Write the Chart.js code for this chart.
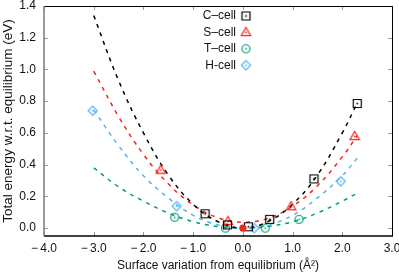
<!DOCTYPE html>
<html>
<head>
<meta charset="utf-8">
<script src="https://cdn.jsdelivr.net/npm/chart.js@4.4.0/dist/chart.umd.min.js"></script>
<style>
  html, body { margin: 0; padding: 0; background: #fff; }
  #wrap { width: 399px; height: 273px; }
</style>
</head>
<body>
<div id="wrap"><canvas id="energyChart" width="399" height="273"></canvas></div>
<script>
// cells
const cellNames = ['C\u2013cell', 'S\u2013cell', 'T\u2013cell', 'H-cell'];
const cellColors = ['#000000', '#f0281e', '#009e73', '#56b4e9'];
const cellShapes = ['square', 'triangle', 'circle', 'diamond'];

// computed points (surface variation, energy)
const cX = [-0.76, -0.31, 0.11, 0.54, 1.43, 2.30];
const cY = [0.090, 0.020, 0.008, 0.055, 0.310, 0.785];
const sX = [-1.65, -0.30, 0.97, 2.25];
const sY = [0.365, 0.042, 0.135, 0.578];
const tX = [-1.37, -0.35, 0.45, 1.13];
const tY = [0.068, 0.000, 0.000, 0.055];
const hX = [-3.02, -1.33, 0.23, 1.97];
const hY = [0.740, 0.138, 0.000, 0.295];

// equilibrium point
const eqX = [0.0];
const eqY = [0.0];

// dashed fit curves
const fitX = [-3.0, -2.5, -2.0, -1.5, -1.0, -0.5, 0.0, 0.5, 1.0, 1.5, 2.0, 2.3];
const cFit = [1.34, 0.93, 0.60, 0.335, 0.15, 0.04, 0.0, 0.04, 0.15, 0.335, 0.60, 0.788];
const sFit = [0.99, 0.703, 0.465, 0.279, 0.146, 0.065, 0.037, 0.061, 0.138, 0.267, 0.449, 0.583];
const tFit = [0.38, 0.26, 0.17, 0.095, 0.04, 0.01, 0.0, 0.01, 0.04, 0.095, 0.17, 0.22];
const hFit = [0.745, 0.52, 0.33, 0.19, 0.08, 0.02, 0.0, 0.02, 0.08, 0.19, 0.33, 0.44];

// axes
const xTicks = [-4, -3, -2, -1, 0, 1, 2, 3];
const yTicks = [0, 0.2, 0.4, 0.6, 0.8, 1.0, 1.2, 1.4];

const FONT = '"Liberation Sans", Arial, sans-serif';

function pairs(xs, ys) {
    return xs.map((x, i) => ({ x: x, y: ys[i] }));
}

// hollow marker with a small dot in the middle (gnuplot style)
function makeMarker(shape, color) {
    const size = 15;
    const c = document.createElement('canvas');
    c.width = size;
    c.height = size;
    const g = c.getContext('2d');
    const m = size / 2;
    g.strokeStyle = color;
    g.fillStyle = color;
    g.lineWidth = 1.2;
    g.beginPath();
    if (shape === 'square') {
        g.rect(m - 4, m - 4, 8, 8);
    } else if (shape === 'triangle') {
        g.moveTo(m, m - 5);
        g.lineTo(m + 4.7, m + 3.2);
        g.lineTo(m - 4.7, m + 3.2);
        g.closePath();
    } else if (shape === 'circle') {
        g.arc(m, m, 4, 0, Math.PI * 2);
    } else {
        g.moveTo(m, m - 4.6);
        g.lineTo(m + 4.6, m);
        g.lineTo(m, m + 4.6);
        g.lineTo(m - 4.6, m);
        g.closePath();
    }
    g.stroke();
    g.beginPath();
    g.arc(m, m, 0.9, 0, Math.PI * 2);
    g.fill();
    return c;
}

const markers = cellShapes.map((s, i) => makeMarker(s, cellColors[i]));

function fmt(v) {
    const s = Math.abs(v).toFixed(1);
    return v < 0 ? '\u2212\u2009' + s : s;
}

// box round the plot with short inward ticks
const framePlugin = {
    id: 'frame',
    afterDraw(chart) {
        const { ctx, chartArea: a, scales } = chart;
        ctx.save();
        ctx.strokeStyle = '#999';
        ctx.lineWidth = 1;
        ctx.beginPath();
        xTicks.forEach(v => {
            const px = Math.round(scales.x.getPixelForValue(v)) + 0.5;
            ctx.moveTo(px, a.bottom); ctx.lineTo(px, a.bottom - 4);
            ctx.moveTo(px, a.top); ctx.lineTo(px, a.top + 4);
        });
        yTicks.forEach(v => {
            const py = Math.round(scales.y.getPixelForValue(v)) + 0.5;
            ctx.moveTo(a.left, py); ctx.lineTo(a.left + 4, py);
            ctx.moveTo(a.right, py); ctx.lineTo(a.right - 4, py);
        });
        ctx.stroke();

        ctx.strokeStyle = '#000';
        ctx.lineWidth = 1;
        ctx.beginPath();
        ctx.moveTo(a.left, a.top + 0.5); ctx.lineTo(a.right + 0.5, a.top + 0.5);
        ctx.lineTo(a.right + 0.5, a.bottom);
        ctx.stroke();
        ctx.lineWidth = 1.6;
        ctx.beginPath();
        ctx.moveTo(a.left, a.bottom); ctx.lineTo(a.right + 1, a.bottom);
        ctx.stroke();
        ctx.strokeStyle = '#808080';
        ctx.lineWidth = 1.6;
        ctx.beginPath();
        ctx.moveTo(a.left, a.top); ctx.lineTo(a.left, a.bottom);
        ctx.stroke();
        ctx.restore();
    }
};

// legend: text on the left, symbol on the right
const keyPlugin = {
    id: 'key',
    afterDraw(chart) {
        const ctx = chart.ctx;
        const textRight = 236;
        const symbolX = 246;
        const firstY = 16;
        const step = 16.4;
        ctx.save();
        ctx.font = '12px ' + FONT;
        ctx.fillStyle = '#111';
        ctx.textAlign = 'right';
        ctx.textBaseline = 'middle';
        cellNames.forEach((name, i) => {
            const y = firstY + i * step;
            ctx.fillText(name, textRight, y);
            const mk = markers[i];
            ctx.drawImage(mk, symbolX - mk.width / 2, y - mk.height / 2);
        });
        ctx.restore();
    }
};

const pointSets = [[cX, cY], [sX, sY], [tX, tY], [hX, hY]];
const fitSets = [cFit, sFit, tFit, hFit];

const datasets = [];
pointSets.forEach((p, i) => {
    datasets.push({
        label: cellNames[i],
        data: pairs(p[0], p[1]),
        pointStyle: markers[i],
        pointRadius: 5,
        showLine: false,
        order: 1
    });
});
datasets.push({
    label: 'equilibrium',
    data: pairs(eqX, eqY),
    pointStyle: 'circle',
    pointRadius: 3.6,
    backgroundColor: '#f0281e',
    borderColor: '#f0281e',
    borderWidth: 0,
    showLine: false,
    order: 0
});
fitSets.forEach((f, i) => {
    datasets.push({
        label: cellNames[i] + ' fit',
        data: pairs(fitX, f),
        borderColor: cellColors[i],
        borderWidth: 1.5,
        borderDash: [4, 5],
        pointRadius: 0,
        showLine: true,
        tension: 0.4,
        fill: false,
        order: 2
    });
});

new Chart(document.getElementById('energyChart'), {
    type: 'scatter',
    data: { datasets: datasets },
    options: {
        responsive: false,
        animation: false,
        events: [],
        layout: { padding: { top: 5, right: 7, left: 0, bottom: 0 } },
        plugins: {
            legend: { display: false },
            tooltip: { enabled: false }
        },
        scales: {
            x: {
                type: 'linear',
                min: -4,
                max: 3,
                afterBuildTicks: s => { s.ticks = xTicks.map(v => ({ value: v })); },
                afterFit: s => { s.height = 37; s.paddingLeft = 0; s.paddingRight = 0; },
                grid: { display: false, drawTicks: false },
                border: { display: false },
                ticks: {
                    padding: 5,
                    color: '#111',
                    font: { family: FONT, size: 12 },
                    maxRotation: 0,
                    callback: v => fmt(v)
                },
                title: {
                    display: true,
                    text: 'Surface variation from equilibrium (\u00c5\u00b2)',
                    color: '#111',
                    font: { family: FONT, size: 12 },
                    padding: { top: 0, bottom: 0 }
                }
            },
            y: {
                type: 'linear',
                min: -0.05,
                max: 1.4,
                afterBuildTicks: s => { s.ticks = yTicks.map(v => ({ value: v })); },
                afterFit: s => { s.width = 44; s.paddingTop = 0; s.paddingBottom = 0; },
                grid: { display: false, drawTicks: false },
                border: { display: false },
                ticks: {
                    padding: 8,
                    color: '#111',
                    font: { family: FONT, size: 12 },
                    callback: v => fmt(v)
                },
                title: {
                    display: true,
                    text: 'Total energy w.r.t. equilibrium (eV)',
                    color: '#111',
                    font: { family: FONT, size: 13.5 },
                    padding: { top: 0, bottom: 0 }
                }
            }
        }
    },
    plugins: [framePlugin, keyPlugin]
});
</script>
</body>
</html>
